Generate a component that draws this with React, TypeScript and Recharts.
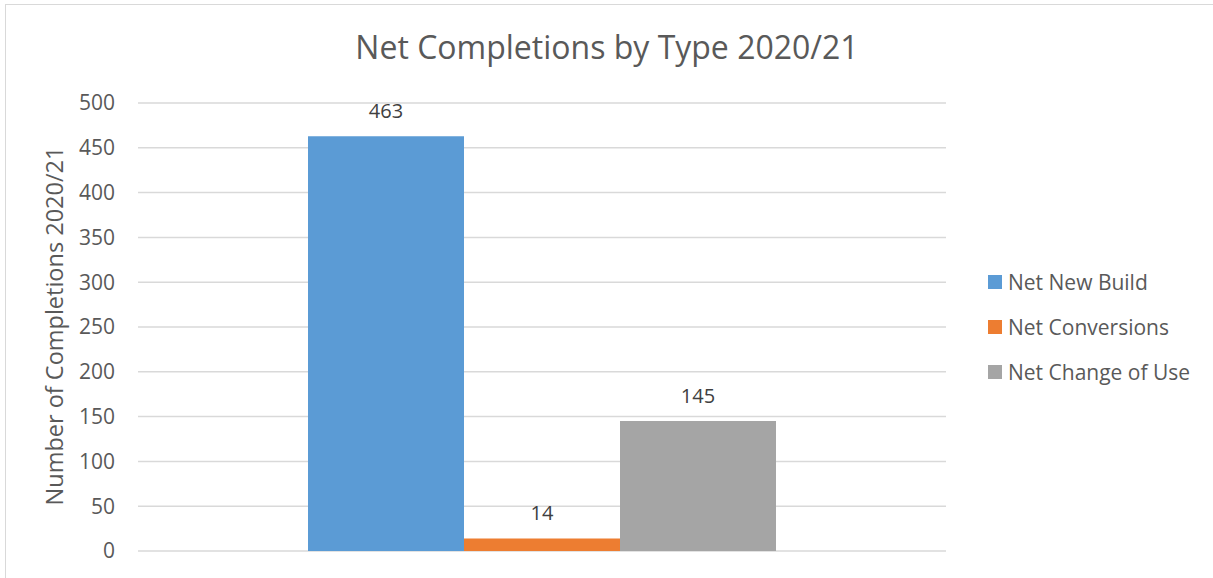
import React from 'react';
import { BarChart, Bar, XAxis, YAxis, CartesianGrid, Legend, LabelList } from 'recharts';

const categories = ['2020/21'];
const seriesKeys = ['newBuild', 'conversions', 'changeOfUse'];
const seriesNames = ['Net New Build', 'Net Conversions', 'Net Change of Use'];
const newBuildValues = [463];
const conversionsValues = [14];
const changeOfUseValues = [145];
const yTicks = [0, 50, 100, 150, 200, 250, 300, 350, 400, 450, 500];
const seriesColors = ['#5B9BD5', '#ED7D31', '#A5A5A5'];

const titleText = 'Net Completions by Type 2020/21';
const yLabelText = 'Number of Completions 2020/21';

const data = categories.map((c, i) => ({
  category: c,
  newBuild: newBuildValues[i],
  conversions: conversionsValues[i],
  changeOfUse: changeOfUseValues[i],
}));

const FONT = '"Open Sans", "Noto Sans", sans-serif';
const TEXT = '#595959';

const LegendContent = () => {
  return (
    <div style={{ fontFamily: FONT }}>
      {seriesNames.map((n, i) => (
        <div key={n} style={{ display: 'flex', alignItems: 'center', height: 45 }}>
          <span style={{ display: 'inline-block', width: 14, height: 14, background: seriesColors[i], marginRight: 6 }} />
          <span style={{ fontSize: 21, color: TEXT, whiteSpace: 'nowrap' }}>{n}</span>
        </div>
      ))}
    </div>
  );
};

export default function App() {
  return (
    <div style={{ position: 'absolute', left: 0, top: 0, width: 1213, height: 578, overflow: 'hidden', background: '#fff' }}>
      <div style={{ position: 'absolute', left: 5, top: 4, width: 1400, height: 800, border: '1px solid #d9d9d9', boxSizing: 'border-box' }} />
      <BarChart
        width={1213}
        height={578}
        data={data}
        margin={{ top: 103, right: 267, bottom: 0, left: 0 }}
        barCategoryGap={170}
        barGap={0}
        style={{ position: 'absolute', left: 0, top: 0 }}
      >
        <CartesianGrid vertical={false} stroke="#d9d9d9" strokeWidth={1.5} />
        <XAxis dataKey="category" height={27} tick={false} axisLine={false} tickLine={false} />
        <YAxis
          width={138}
          domain={[0, 500]}
          ticks={yTicks}
          interval={0}
          axisLine={false}
          tickLine={false}
          tickSize={0}
          tickMargin={23}
          tick={{ fill: TEXT, fontSize: 21, fontFamily: FONT }}
        />
        <Legend
          layout="vertical"
          align="center"
          verticalAlign="middle"
          content={<LegendContent />}
          wrapperStyle={{ left: 988, top: 259, width: 220 }}
        />
        {seriesKeys.map((k, i) => (
          <Bar key={k} dataKey={k} name={seriesNames[i]} fill={seriesColors[i]} isAnimationActive={false}>
            <LabelList dataKey={k} position="top" offset={18} fill="#404040" fontSize={20} fontFamily={FONT} />
          </Bar>
        ))}
      </BarChart>
      <svg width={1213} height={578} style={{ position: 'absolute', left: 0, top: 0, pointerEvents: 'none' }}>
        <text x={607} y={59} textAnchor="middle" fontSize={32} fill={TEXT} fontFamily={FONT}>{titleText}</text>
        <text x={63} y={326} textAnchor="middle" fontSize={23.5} fill={TEXT} fontFamily={FONT} transform="rotate(-90 63 326)">{yLabelText}</text>
      </svg>
    </div>
  );
}
